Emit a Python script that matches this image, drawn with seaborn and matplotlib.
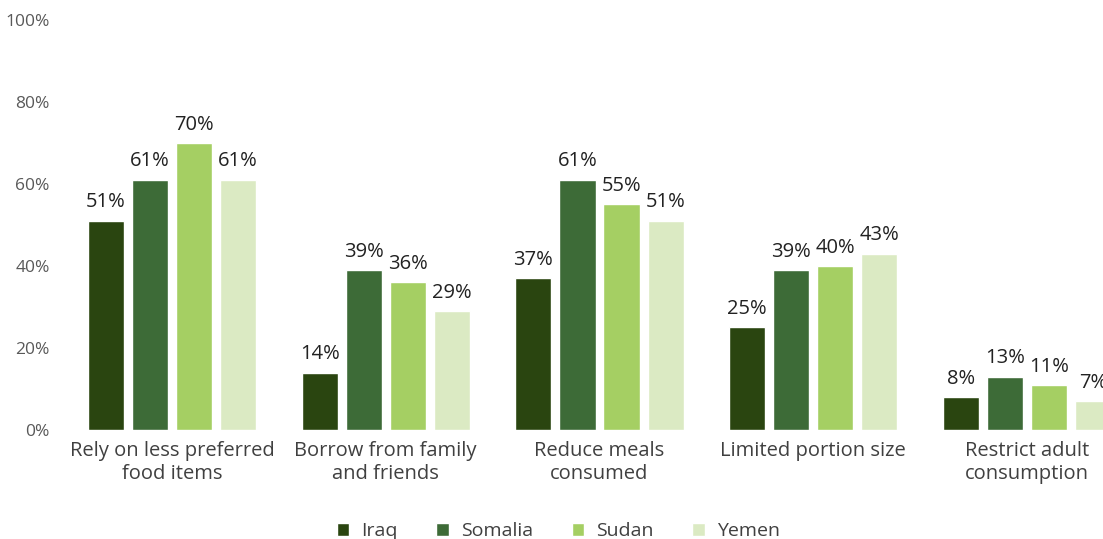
import pandas as pd
import matplotlib.pyplot as plt
import seaborn as sns

# Values (percent)
categories = ['Rely on less preferred\nfood items', 'Borrow from family\nand friends',
              'Reduce meals\nconsumed', 'Limited portion size', 'Restrict adult\nconsumption']
countries = ['Iraq', 'Somalia', 'Sudan', 'Yemen']
iraq = [51, 14, 37, 25, 8]
somalia = [61, 39, 61, 39, 13]
sudan = [70, 36, 55, 40, 11]
yemen = [61, 29, 51, 43, 7]
colors = ['#2a4510', '#3d6b37', '#a5cf63', '#dbeac3']
y_ticks = [0, 20, 40, 60, 80, 100]

rows = []
for country, vals in zip(countries, [iraq, somalia, sudan, yemen]):
    for cat, v in zip(categories, vals):
        rows.append({'category': cat, 'country': country, 'value': v})
data = pd.DataFrame(rows)

sns.set_theme(style='white')
plt.rcParams['font.family'] = ['Open Sans', 'DejaVu Sans']

fig = plt.figure(figsize=(11.03, 5.39), dpi=100)
ax = fig.add_axes([0.059, 0.2022, 0.969, 0.761])

sns.barplot(data=data, x='category', y='value', hue='country', palette=colors,
            width=0.825, gap=0.18, ax=ax, legend=True, saturation=1)

for cont in ax.containers:
    ax.bar_label(cont, labels=[f'{v:.0f}%' for v in cont.datavalues],
                 padding=6, fontsize=14.5, color='#222222')

ax.set_ylim(0, 100)
ax.set_yticks(y_ticks)
ax.set_yticklabels([f'{t}%' for t in y_ticks], fontsize=12.5, color='#595959')
ax.tick_params(axis='y', pad=11, length=0)
ax.tick_params(axis='x', length=0, labelsize=14.5, labelcolor='#404040', pad=8)
ax.set_xlabel('')
ax.set_ylabel('')
for s in ax.spines.values():
    s.set_visible(False)

handles, labels = ax.get_legend_handles_labels()
ax.get_legend().remove()
fig.legend(handles, labels, loc='center', bbox_to_anchor=(0.506, 0.015), ncol=4,
           frameon=False, fontsize=14, labelcolor='#404040',
           handlelength=0.65, handleheight=0.65, handletextpad=0.6, columnspacing=2.0)

fig.savefig('out.png', dpi=100)
